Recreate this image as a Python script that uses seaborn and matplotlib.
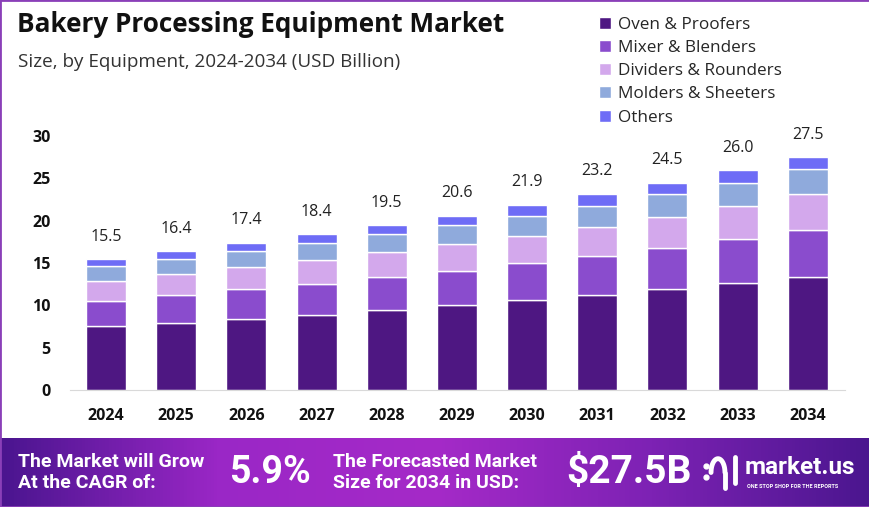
import numpy as np
import pandas as pd
import matplotlib
matplotlib.use("Agg")
import matplotlib.pyplot as plt
from matplotlib.colors import LinearSegmentedColormap
from matplotlib.patches import Rectangle
import seaborn as sns

years = ["2024", "2025", "2026", "2027", "2028", "2029", "2030", "2031", "2032", "2033", "2034"]
oven = [7.5, 7.9, 8.4, 8.9, 9.4, 10.0, 10.6, 11.2, 11.9, 12.6, 13.4]
mixer = [3.0, 3.3, 3.5, 3.6, 3.9, 4.1, 4.4, 4.6, 4.9, 5.2, 5.5]
dividers = [2.4, 2.5, 2.6, 2.8, 3.0, 3.1, 3.2, 3.5, 3.6, 3.9, 4.2]
molders = [1.7, 1.8, 1.9, 2.0, 2.1, 2.3, 2.4, 2.4, 2.7, 2.8, 3.0]
others = [0.9, 0.9, 1.0, 1.1, 1.1, 1.1, 1.3, 1.5, 1.4, 1.5, 1.4]
segments = ["Oven & Proofers", "Mixer & Blenders", "Dividers & Rounders",
            "Molders & Sheeters", "Others"]
colors = ["#4e1782", "#8a4ccd", "#d3a8ec", "#8faadc", "#6e6cf6"]

df = pd.DataFrame({"Year": years, segments[0]: oven, segments[1]: mixer,
                   segments[2]: dividers, segments[3]: molders, segments[4]: others})

sns.set_style("white")
plt.rcParams["font.family"] = ["Open Sans", "DejaVu Sans"]

fig = plt.figure(figsize=(8.7, 5.07), dpi=100)
ax = fig.add_axes([70 / 870, 117 / 507, 775 / 870, 271 / 507])

bottom = np.zeros(len(years))
for seg, col in zip(segments, colors):
    sns.barplot(x=df["Year"], y=df[seg], bottom=bottom, color=col, width=0.57,
                label=seg, ax=ax, saturation=1)
    bottom = bottom + df[seg].values

for i, tot in enumerate(bottom):
    ax.annotate(f"{tot:.1f}", (i, tot), xytext=(0, 16), textcoords="offset points",
                ha="center", va="center", fontsize=11.5, color="#222222")

ax.set_xlim(-0.513, 10.53)
ax.set_ylim(0, 32)
ax.set_yticks([0, 5, 10, 15, 20, 25, 30])
ax.set_xlabel("")
ax.set_ylabel("")
for s in ["top", "right", "left"]:
    ax.spines[s].set_visible(False)
ax.spines["bottom"].set_color("#d9d9d9")
ax.tick_params(axis="both", length=0, labelsize=11.5)
ax.tick_params(axis="y", pad=14)
ax.tick_params(axis="x", pad=13)
for lab in ax.get_xticklabels() + ax.get_yticklabels():
    lab.set_fontweight("bold")
    lab.set_color("#111111")

handles, labels = ax.get_legend_handles_labels()
if ax.get_legend() is not None:
    ax.get_legend().remove()
fig.legend(handles, labels, loc="upper left", bbox_to_anchor=(592 / 870, 1 - 10 / 507),
           frameon=False, fontsize=12.3, handlelength=0.7, handleheight=0.7,
           handletextpad=0.45, labelspacing=0.42, borderaxespad=0)

fig.text(17 / 870, 1 - 25 / 507, "Bakery Processing Equipment Market", fontsize=18.8,
         fontweight="bold", color="#111111", va="center")
fig.text(18 / 870, 1 - 62 / 507, "Size, by Equipment, 2024-2034 (USD Billion)", fontsize=13.6,
         color="#333333", va="center")

# bottom banner
bx = fig.add_axes([0, 0, 1, 69 / 507])
grad = LinearSegmentedColormap.from_list("g", ["#4a158f", "#9a27c6", "#a52ac8", "#7d22b4", "#4b168f"])
bx.imshow(np.linspace(0, 1, 256).reshape(1, -1), aspect="auto", cmap=grad, extent=[0, 1, 0, 1])
bx.set_xlim(0, 1)
bx.set_ylim(0, 1)
bx.axis("off")
bfont = ["Roboto", "DejaVu Sans"]
bx.text(18 / 870, 0.5, "The Market will Grow\nAt the CAGR of:", color="white", fontsize=14,
        fontweight="bold", va="center", linespacing=1.25, family=bfont)
bx.text(229 / 870, 0.5, "5.9%", color="white", fontsize=27, fontweight="bold", va="center",
        family=bfont)
bx.text(333 / 870, 0.5, "The Forecasted Market\nSize for 2034 in USD:", color="white", fontsize=14,
        fontweight="bold", va="center", linespacing=1.25, family=bfont)
bx.text(566 / 870, 0.5, "$27.5B", color="white", fontsize=28, fontweight="bold", va="center",
        family=bfont)
bx.text(745 / 870, 0.57, "market.us", color="white", fontsize=17.5, fontweight="bold", va="center",
        family=bfont)
bx.text(747 / 870, 0.3, "ONE STOP SHOP FOR THE REPORTS", color="white", fontsize=4,
        fontweight="bold", va="center", family=bfont)
# small logo mark
t = np.linspace(0, np.pi, 30)
bx.plot(718 / 870 + 0.008 * np.cos(t[::-1]), 0.5 + 0.2 * np.sin(t), color="white", lw=3.5,
        solid_capstyle="round")
bx.plot([725 / 870, 725 / 870], [0.5, 0.28], color="white", lw=3.5, solid_capstyle="round")
bx.plot([735 / 870, 735 / 870], [0.72, 0.35], color="white", lw=3.5, solid_capstyle="round")
bx.plot([706 / 870, 706 / 870], [0.6, 0.43], color="white", lw=0, marker="o", ms=3.5)

fig.patches.append(Rectangle((0, 0), 1, 1, transform=fig.transFigure, fill=False,
                             edgecolor="#8a3fb8", lw=2))

fig.savefig("out.png", dpi=100)
